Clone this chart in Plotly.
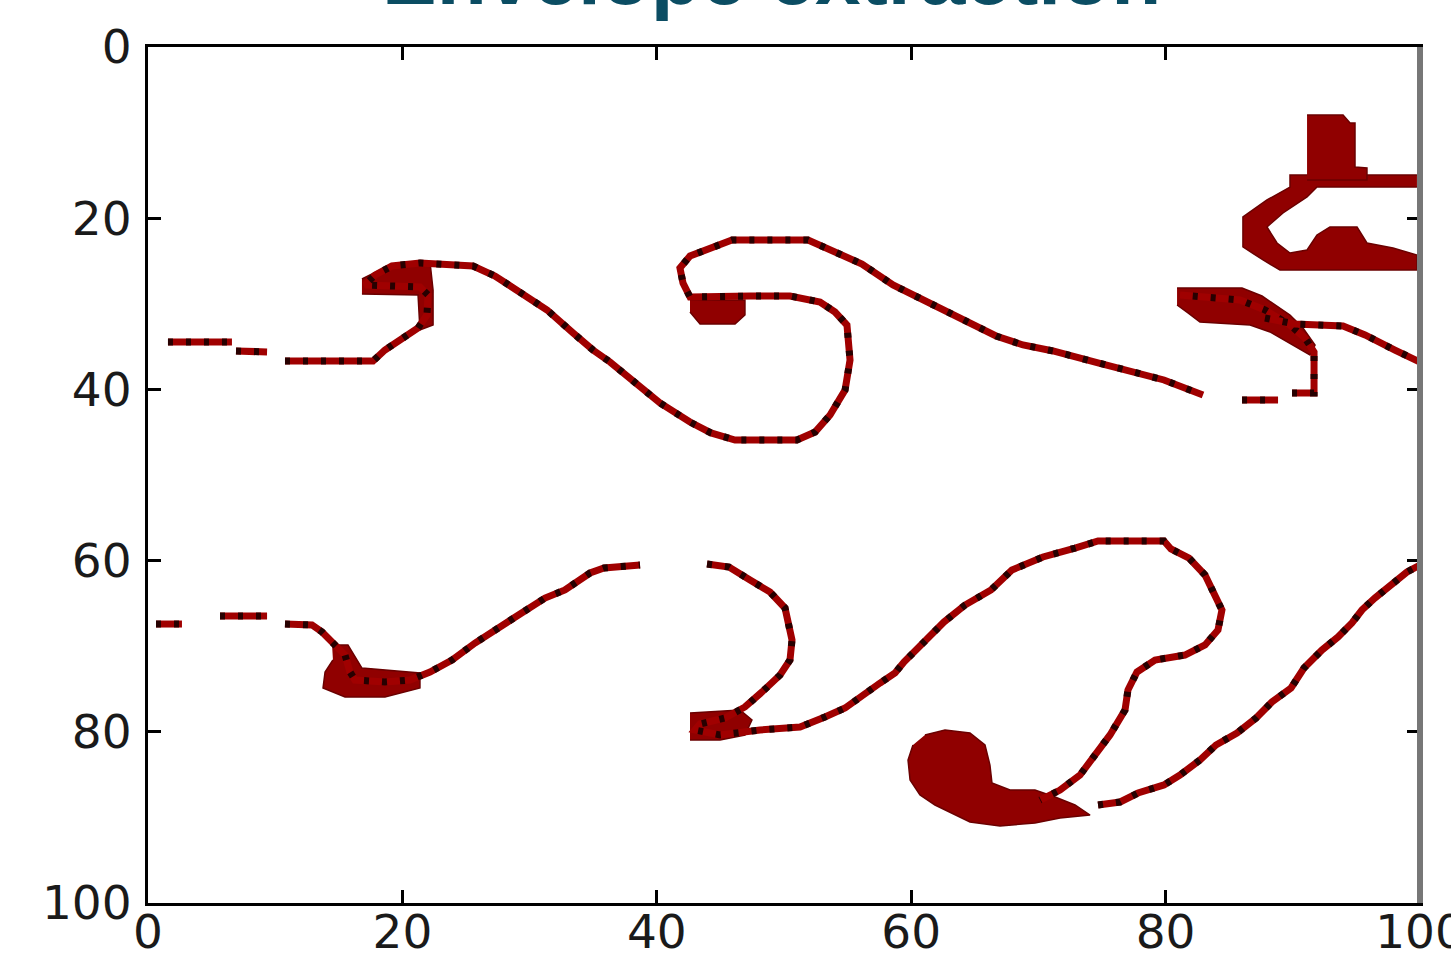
import plotly.graph_objects as go

# ---------------- data (axis units) ----------------
# Upper spiral curve (None = gap)
upper_x = [1.57, 6.60, None, 6.92, 9.36, None,
           10.77, 17.69, 18.63, 20.05, 21.23, 21.93, 22.01, 21.38, 19.42, 17.06, 17.85, 19.18, 21.38,
           25.55, 27.28, 29.25, 31.37, 33.41, 34.98, 36.32, 38.44, 40.25, 42.61, 44.26, 46.15, 51.02,
           52.44, 53.62, 54.80, 55.19, 54.95, 54.01, 52.83, 50.47, 47.33, 44.18, 42.61, 42.06, 41.82,
           42.61, 43.79, 45.91, 51.89, 53.69, 56.13, 58.57, 61.24, 64.23, 66.67, 68.79, 71.15, 74.76,
           77.52, 79.87, 82.94, None, 86.01, 88.84]
upper_y = [34.46, 34.46, None, 35.51, 35.63, None,
           36.68, 36.68, 35.40, 34.00, 32.83, 31.31, 28.97, 28.04, 27.92, 27.80, 26.64, 25.58, 25.23,
           25.58, 26.75, 28.62, 30.72, 33.41, 35.40, 36.80, 39.49, 41.59, 43.81, 45.09, 45.91, 45.91,
           44.98, 42.99, 40.07, 36.57, 32.48, 30.96, 29.79, 29.09, 29.09, 29.21, 29.21, 27.57, 25.82,
           24.42, 23.71, 22.55, 22.55, 23.83, 25.35, 27.80, 29.79, 32.01, 33.76, 34.81, 35.51, 36.92,
           37.97, 38.90, 40.65, None, 41.24, 41.24]

# Right-hand hook below the wedge, and the line leaving the wedge
hook_x = [89.94, 91.67, 91.67, 90.96, 89.78, 87.81, 85.85, 81.13]
hook_y = [40.42, 40.42, 35.63, 34.00, 32.48, 30.72, 29.56, 28.97]
branch_x = [87.81, 90.17, 93.95, 95.68, 98.03, 100.0]
branch_y = [31.66, 32.36, 32.59, 33.64, 35.40, 36.80]

# Lower curve (None = gap)
lower_x = [0.63, 2.67, None, 5.66, 9.36, None,
           10.77, 12.89, 13.68, 14.54, 15.49, 15.88, 16.27, 18.63, 20.60, 22.17, 23.90, 25.71, 27.67,
           29.25, 31.21, 32.78, 34.75, 35.85, 38.68, None,
           43.95, 45.68, 47.33, 48.90, 50.08, 50.63, 50.47, 49.69, 48.27, 46.93, 45.36, 43.40, 43.00,
           44.97, 48.11, 51.26, 53.22, 54.80, 57.55, 58.73, 59.43, 60.85, 62.58, 64.23, 66.27, 67.92,
           70.36, 72.88, 74.69, 79.87, 80.42, 81.84, 83.10, 84.43, 84.12, 83.10, 81.52, 79.17, 77.75,
           77.04, 76.81, 75.63, 74.45, 73.27, 71.70, 70.13]
lower_y = [67.41, 67.41, None, 66.47, 66.47, None,
           67.41, 67.52, 68.34, 69.51, 71.03, 73.01, 73.95, 74.18, 73.95, 73.01, 71.61, 69.63, 67.87,
           66.24, 64.37, 63.43, 61.45, 60.86, 60.51, None,
           60.40, 60.75, 62.27, 63.67, 65.54, 69.28, 71.61, 73.36, 75.35, 77.10, 78.39, 79.09, 79.79,
           80.37, 79.79, 79.44, 78.27, 77.22, 74.30, 73.13, 71.85, 69.86, 67.17, 65.19, 63.43, 61.10,
           59.58, 58.53, 57.71, 57.71, 58.64, 59.70, 61.68, 65.77, 68.11, 69.86, 71.03, 71.61, 73.01,
           75.12, 77.45, 80.37, 82.71, 85.05, 86.80, 87.97]

# Right diagonal line
diag_x = [74.69, 76.42, 77.83, 79.87, 81.13, 82.70, 83.96, 85.61, 87.11, 88.36, 89.86, 90.88,
          92.30, 93.55, 94.65, 95.44, 96.46, 97.64, 98.98, 100.0]
diag_y = [88.55, 88.20, 87.15, 86.21, 85.05, 83.29, 81.54, 80.14, 78.39, 76.52, 74.88, 72.55,
          70.44, 68.93, 67.29, 65.77, 64.37, 62.97, 61.33, 60.51]

# Thick (filled) regions
wedge_x = [80.90, 86.01, 87.58, 89.78, 90.80, 91.75, 91.35, 89.94, 88.21, 86.64, 82.70, 81.76, 80.90]
wedge_y = [28.15, 28.15, 29.09, 31.31, 32.83, 34.81, 35.98, 34.81, 33.29, 32.48, 32.13, 31.07, 30.14]

c_shape_x = [99.76, 91.90, 89.78, 89.78, 87.97, 86.08, 86.08, 87.66, 88.99, 99.76,
             99.76, 97.88, 95.83, 95.05, 92.92, 91.90, 91.12, 89.78, 88.76, 87.97, 89.23, 91.12, 91.90, 99.76]
c_shape_y = [14.95, 14.95, 14.95, 16.36, 17.87, 19.86, 23.36, 24.88, 26.05, 26.05,
             24.30, 23.48, 22.90, 21.03, 21.03, 21.96, 23.71, 24.07, 22.90, 21.03, 19.39, 17.52, 16.36, 16.36]

stem_x = [91.12, 93.95, 94.50, 94.89, 94.89, 95.83, 95.83, 91.12]
stem_y = [7.94, 7.94, 8.88, 8.88, 14.02, 14.14, 15.54, 15.54]

hookblob_x = [16.82, 18.24, 20.20, 22.17, 22.41, 22.41, 21.38, 21.23, 16.82]
hookblob_y = [27.10, 26.05, 25.12, 25.12, 28.39, 32.48, 33.06, 28.97, 28.86]

loopblob_x = [42.61, 46.93, 46.93, 46.15, 43.40, 42.61]
loopblob_y = [29.56, 29.56, 31.31, 32.36, 32.36, 30.96]

lowblob1_x = [14.47, 15.72, 16.82, 21.38, 21.38, 18.63, 15.49, 13.76, 13.92, 14.54]
lowblob1_y = [69.86, 69.86, 72.55, 73.13, 74.88, 75.93, 75.93, 74.88, 73.01, 71.61]

lowblob2_x = [42.61, 46.54, 47.48, 46.93, 44.97, 42.61]
lowblob2_y = [77.80, 77.45, 78.62, 80.37, 80.96, 80.96]

bigblob_x = [61.08, 62.66, 64.62, 65.80, 66.19, 66.35, 67.77, 69.73, 71.31, 72.88, 74.06, 71.70,
             69.73, 66.98, 64.62, 63.44, 61.87, 60.69, 59.91, 59.75, 60.14]
bigblob_y = [80.37, 79.79, 80.14, 81.54, 83.88, 85.98, 86.80, 86.80, 87.62, 88.55, 89.72, 90.07,
             90.65, 91.00, 90.54, 89.72, 88.55, 87.38, 85.63, 83.29, 81.54]

tick_vals = [0, 20, 40, 60, 80, 100]
tick_text = ["0", "20", "40", "60", "80", "100"]
title_text = "Envelope extraction"

RED = "#a00000"
DARK = "#120000"

fig = go.Figure()

for bx, by in [(wedge_x, wedge_y), (c_shape_x, c_shape_y), (stem_x, stem_y),
               (hookblob_x, hookblob_y), (loopblob_x, loopblob_y),
               (lowblob1_x, lowblob1_y), (lowblob2_x, lowblob2_y), (bigblob_x, bigblob_y)]:
    fig.add_trace(go.Scatter(x=bx, y=by, mode="lines", fill="toself", fillcolor="#900000",
                             line=dict(color="#6a0000", width=1.5), hoverinfo="skip",
                             showlegend=False))

for cx, cy in [(upper_x, upper_y), (hook_x, hook_y), (branch_x, branch_y),
               (lower_x, lower_y), (diag_x, diag_y)]:
    fig.add_trace(go.Scatter(x=cx, y=cy, mode="lines", connectgaps=False,
                             line=dict(color=RED, width=7), hoverinfo="skip", showlegend=False))
    fig.add_trace(go.Scatter(x=cx, y=cy, mode="lines", connectgaps=False,
                             line=dict(color=DARK, width=7, dash="5px,13px"),
                             opacity=0.85, hoverinfo="skip", showlegend=False))

axis_common = dict(range=[0, 100], tickvals=tick_vals, ticktext=tick_text,
                   ticks="inside", ticklen=13, tickwidth=3, tickcolor="black",
                   showline=True, linecolor="black", linewidth=3, mirror="ticks",
                   showgrid=False, zeroline=False, automargin=False,
                   ticklabeloverflow="allow",
                   tickfont=dict(family="DejaVu Sans", size=47, color="#1a1a1a"))

fig.update_xaxes(**axis_common, ticklabelstandoff=-14)
fig.update_yaxes(**axis_common, autorange=False)
fig.update_yaxes(range=[100, 0], ticklabelstandoff=4)

# grey right frame edge
fig.add_shape(type="line", xref="paper", yref="paper", x0=1, x1=1, y0=0, y1=1,
              line=dict(color="#777777", width=6))

fig.add_annotation(text=title_text, xref="paper", yref="paper", x=0.49, y=1.083,
                   yanchor="middle", showarrow=False,
                   font=dict(family="Liberation Sans", size=82, color="#0b4d63", weight="bold"))

fig.update_layout(width=1451, height=955, plot_bgcolor="white", paper_bgcolor="white",
                  margin=dict(l=148, r=31, t=47, b=52))

fig.write_html("out.html", config={"displayModeBar": False},
               post_script="document.body.style.margin='0';document.body.style.overflow='hidden';")
